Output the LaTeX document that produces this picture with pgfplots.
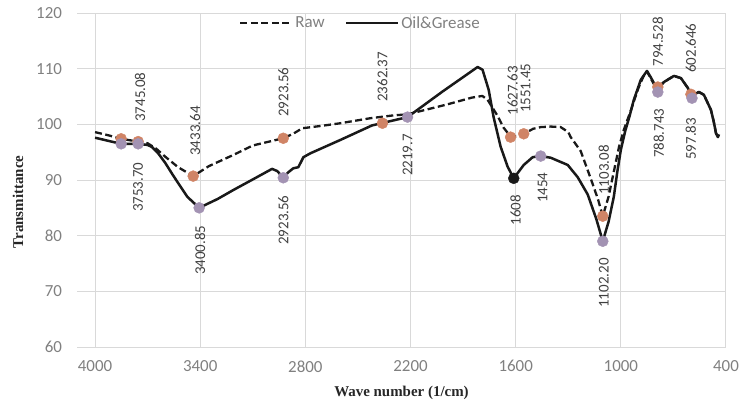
\documentclass[border=0pt]{standalone}
\usepackage{fontspec}
\setmainfont{Carlito}
\newfontfamily\serifb{Liberation Serif}
\usepackage{pgfplots}
\pgfplotsset{compat=1.18}

\definecolor{rawc}{HTML}{D08466}
\definecolor{oilc}{HTML}{A393B3}
\definecolor{gridc}{HTML}{D9D9D9}
\definecolor{tickc}{HTML}{808080}
\definecolor{labc}{HTML}{404040}

% FTIR spectra, raw sample vs. oil & grease
\pgfplotstableread{
x y
4000 98.6
3920 98.0
3851 97.4
3754 96.9
3700 96.6
3650 95.6
3600 94.2
3526 92.3
3440 90.7
3350 92.5
3211 94.5
3100 96.2
2926 97.5
2870 98.3
2817 99.3
2714 99.7
2600 100.2
2429 101.1
2300 101.6
2217 101.8
2000 103.5
1850 104.8
1790 105.1
1760 104.4
1703 101.5
1669 99.4
1629 97.8
1590 97.9
1554 98.3
1500 99.2
1457 99.5
1400 99.6
1343 99.5
1300 98.6
1286 97.7
1229 95.2
1171 90.2
1130 86.5
1103 83.5
1070 87.0
1040 91.5
1010 96.0
983 99.0
943 102.5
900 106.5
870 108.7
851 109.5
830 108.3
811 107.2
789 106.7
754 107.6
697 108.7
657 108.3
617 106.5
600 105.4
554 105.8
526 105.3
486 102.6
470 100.5
457 98.4
446 97.7
}\rawdata

\pgfplotstableread{
x y
4000 97.6
3920 97.0
3851 96.5
3754 96.5
3700 96.3
3674 95.9
3640 94.8
3600 93.1
3554 90.8
3474 87.0
3406 85.0
3300 86.6
3211 88.2
3100 90.1
2990 92.0
2960 91.6
2926 90.4
2897 91.4
2869 92.1
2840 92.3
2811 94.1
2771 94.8
2600 97.2
2420 99.8
2217 101.3
2017 105.9
1817 110.3
1789 109.8
1754 106.2
1726 101.3
1686 96.0
1646 92.4
1611 90.3
1554 92.7
1503 94.1
1457 94.3
1400 94.0
1303 92.7
1246 90.5
1189 87.4
1140 83.0
1103 79.0
1070 82.5
1040 87.0
1020 91.5
1000 95.4
975 98.8
950 101.5
926 104.4
886 108.0
851 109.6
830 108.5
811 107.4
789 105.8
770 107.0
754 107.6
697 108.7
657 108.3
617 106.5
594 104.7
575 105.5
554 105.8
526 105.3
486 102.6
470 100.5
457 98.4
446 97.7
440 98.2
}\oildata

\begin{document}
\begin{tikzpicture}
\begin{axis}[
  scale only axis, width=649bp, height=334bp,
  x dir=reverse,
  xmin=400, xmax=4103, ymin=60, ymax=120,
  xtick={400,1000,...,4000}, ytick={60,70,...,120},
  grid=major, major grid style={gridc, line width=1bp},
  axis line style={draw=none}, tick style={draw=none},
  ticklabel style={font=\fontsize{17}{19}\selectfont, text=tickc},
  /pgf/number format/assume math mode=true,
  /pgf/number format/1000 sep={},
  xticklabel style={yshift=-10bp},
  yticklabel style={xshift=-11.5bp},
  clip=false,
  legend columns=2,
  legend style={draw=none, fill=none, at={(rel axis cs:0.245,0.97)}, anchor=west,
    font=\fontsize{17}{19}\selectfont, text=tickc,
    /tikz/every even column/.append style={column sep=18bp}},
  legend cell align=left,
  legend image code/.code={\draw[#1] (0bp,0bp) -- (52bp,0bp);},
]
\addplot[black!90, line width=2.3bp, dash pattern=on 7bp off 3.5bp, line join=round] table {\rawdata};
\addlegendentry{Raw}
\addplot[black!90, line width=2.5bp, line join=round] table {\oildata};
\addlegendentry{Oil\&Grease}

\addplot[only marks, mark=*, mark size=5.5bp, color=rawc, forget plot] coordinates {
  (3851,97.4) (3754,96.9) (3440,90.7) (2926,97.5) (2360,100.2)
  (1629,97.7) (1554,98.3) (1103,83.5) (789,106.7) (600,105.4)};
\addplot[only marks, mark=*, mark size=5.5bp, color=oilc, forget plot] coordinates {
  (3851,96.5) (3754,96.5) (3406,85.0) (2926,90.4) (2217,101.3)
  (1457,94.3) (1103,79.0) (789,105.8) (594,104.7)};
\addplot[only marks, mark=*, mark size=5.5bp, color=black!90, forget plot] coordinates {
  (1611,90.3)};

\begin{scope}[every node/.style={rotate=90, font=\fontsize{15}{17}\selectfont, text=labc, inner sep=0pt}]
\node at (axis cs:3743,104.9) {3745.08};
\node at (axis cs:3429,98.8) {3433.64};
\node at (axis cs:2926,105.8) {2923.56};
\node at (axis cs:2360,108.5) {2362.37};
\node at (axis cs:1617,106.0) {1627.63};
\node at (axis cs:1543,106.5) {1551.45};
\node at (axis cs:1097,91.8) {1103.08};
\node at (axis cs:789,114.8) {794.528};
\node at (axis cs:600,113.7) {602.646};
\node at (axis cs:3754,88.7) {3753.70};
\node at (axis cs:3400,77.4) {3400.85};
\node at (axis cs:2926,82.8) {2923.56};
\node at (axis cs:2217,94.5) {2219.7};
\node at (axis cs:1600,84.6) {1608};
\node at (axis cs:1446,88.6) {1454};
\node at (axis cs:1097,71.5) {1102.20};
\node at (axis cs:783,98.4) {788.743};
\node at (axis cs:600,97.4) {597.83};
\end{scope}

\node[font=\serifb\bfseries\fontsize{15}{17}\selectfont, text=black!85] at (rel axis cs:0.5,-0.138) {Wave number (1/cm)};
\node[rotate=90, font=\serifb\bfseries\fontsize{15}{17}\selectfont, text=black!85] at (rel axis cs:-0.0909,0.434) {Transmittance};
\end{axis}
\pgfresetboundingbox
\path ([shift={(-77bp,-61bp)}]current axis.south west) rectangle ([shift={(13bp,13bp)}]current axis.north east);
\end{tikzpicture}
\end{document}
